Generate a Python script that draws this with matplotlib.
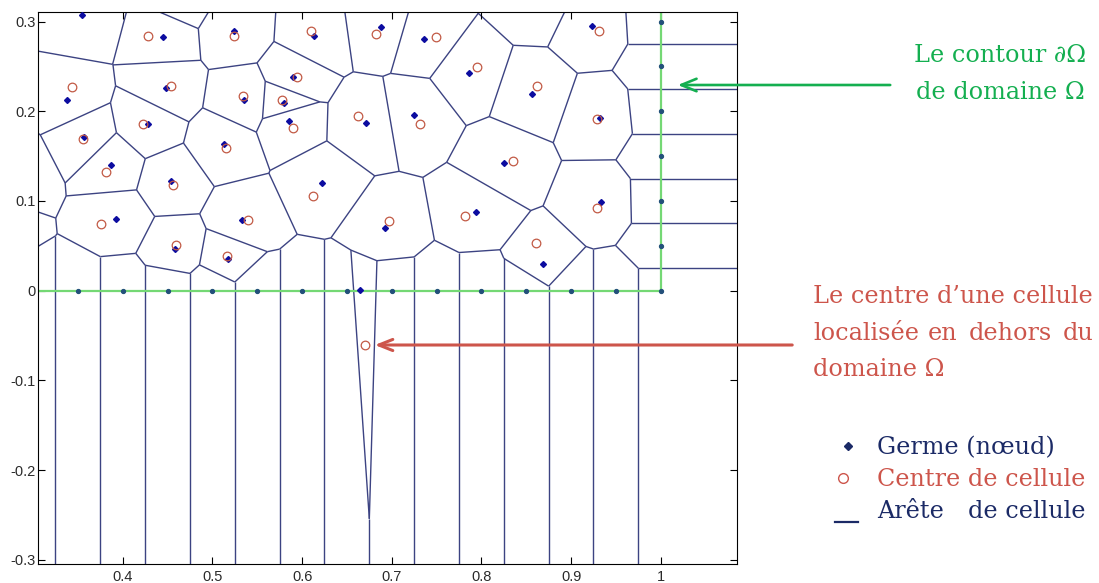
import numpy as np
import matplotlib
matplotlib.use('Agg')
import matplotlib.pyplot as plt
import matplotlib.tri as mtri
from matplotlib.collections import LineCollection
from matplotlib.lines import Line2D
from matplotlib.ticker import FuncFormatter

# germes (noeuds)
germe_x = [0.355, 0.445, 0.5245, 0.6138, 0.3383, 0.448, 0.535, 0.5903, 0.5796, 0.5855,
           0.4279, 0.3572, 0.5126, 0.3874, 0.4539, 0.6219, 0.3926, 0.5335, 0.4584, 0.5171,
           0.671, 0.6877, 0.736, 0.9238, 0.7859, 0.8565, 0.7253, 0.9323, 0.8253, 0.9335,
           0.6929, 0.794, 0.8684, 0.665]
germe_y = [0.307, 0.2832, 0.2895, 0.2839, 0.2126, 0.2263, 0.2129, 0.2378, 0.2096, 0.1895,
           0.1854, 0.1713, 0.1635, 0.1405, 0.1219, 0.1197, 0.0799, 0.0788, 0.0461, 0.0353,
           0.1869, 0.2943, 0.2802, 0.2954, 0.243, 0.2193, 0.1962, 0.1929, 0.1427, 0.0985,
           0.0695, 0.0881, 0.0297, 0.00103]

# germes places sur le contour (y=0 et x=1)
bord_x = [0.25, 0.30, 0.35, 0.40, 0.45, 0.50, 0.55, 0.60, 0.65, 0.70, 0.75, 0.80, 0.85,
          0.90, 0.95, 1.00, 1.00, 1.00, 1.00, 1.00, 1.00, 1.00, 1.00]
bord_y = [0.0, 0.0, 0.0, 0.0, 0.0, 0.0, 0.0, 0.0, 0.0, 0.0, 0.0, 0.0, 0.0,
          0.0, 0.0, 0.0, 0.05, 0.10, 0.15, 0.20, 0.25, 0.30, 0.35]

# germes hors de la fenetre (a gauche et en haut)
cache_x = [0.2816, 0.2593, 0.25, 0.25, 0.36, 0.4636, 0.54, 0.62, 0.69, 0.74, 0.8616, 0.93]
cache_y = [0.1322, 0.0675, 0.20, 0.34, 0.37, 0.3268, 0.36, 0.36, 0.37, 0.37, 0.3256, 0.37]

# centres des cellules
centre_x = [0.4279, 0.5245, 0.61, 0.3431, 0.4543, 0.5338, 0.5948, 0.5777, 0.5903, 0.423,
            0.3558, 0.5149, 0.3814, 0.4558, 0.6126, 0.3755, 0.5394, 0.4595, 0.5164, 0.6628,
            0.6822, 0.7499, 0.9314, 0.7948, 0.8617, 0.7313, 0.9286, 0.8348, 0.9286, 0.6967,
            0.7822, 0.8606, 0.6702]
centre_y = [0.2836, 0.2843, 0.2895, 0.2274, 0.2285, 0.2174, 0.2378, 0.2126, 0.181, 0.1858,
            0.1695, 0.159, 0.1323, 0.1182, 0.1052, 0.0743, 0.0788, 0.0509, 0.0383, 0.1944,
            0.2861, 0.2824, 0.2895, 0.2497, 0.2285, 0.1855, 0.1918, 0.1449, 0.0918, 0.0777,
            0.0836, 0.0535, -0.0605]

# contour du domaine
contour_x = [0.0, 1.0, 1.0]
contour_y = [0.0, 0.0, 0.4]

W, H = 1099, 583


def pix(px, py):
    return px / W, 1 - py / H


def aretes_voronoi(x, y, longueur=5.0):
    tri = mtri.Triangulation(x, y)
    pts = np.column_stack([x, y])
    T = tri.triangles
    a, b, c = pts[T[:, 0]], pts[T[:, 1]], pts[T[:, 2]]
    a2, b2, c2 = (a**2).sum(1), (b**2).sum(1), (c**2).sum(1)
    d = 2 * (a[:, 0]*(b[:, 1]-c[:, 1]) + b[:, 0]*(c[:, 1]-a[:, 1]) + c[:, 0]*(a[:, 1]-b[:, 1]))
    ux = (a2*(b[:, 1]-c[:, 1]) + b2*(c[:, 1]-a[:, 1]) + c2*(a[:, 1]-b[:, 1])) / d
    uy = (a2*(c[:, 0]-b[:, 0]) + b2*(a[:, 0]-c[:, 0]) + c2*(b[:, 0]-a[:, 0])) / d
    cc = np.column_stack([ux, uy])
    segs = []
    for t in range(len(T)):
        for k in range(3):
            n = tri.neighbors[t, k]
            if n > t:
                segs.append([cc[t], cc[n]])
            elif n == -1:
                p = pts[T[t, k]]
                q = pts[T[t, (k+1) % 3]]
                r = pts[T[t, (k+2) % 3]]
                e = q - p
                nrm = np.array([e[1], -e[0]])
                if np.dot(nrm, (p+q)/2 - r) < 0:
                    nrm = -nrm
                nrm = nrm / np.hypot(nrm[0], nrm[1])
                segs.append([cc[t], cc[t] + longueur*nrm])
    return segs


tous_x = np.array(germe_x + bord_x + cache_x)
tous_y = np.array(germe_y + bord_y + cache_y)
segs = aretes_voronoi(tous_x, tous_y)

plt.rcParams['axes.unicode_minus'] = False
fig = plt.figure(figsize=(W/100, H/100), dpi=100)
ax = fig.add_axes([38/W, 1-564/H, (736.7-38)/W, (564-12)/H])

ax.add_collection(LineCollection(segs, colors='#3c4382', linewidths=1.0, zorder=1))
ax.plot(contour_x, contour_y, color='#74d874', lw=1.6, zorder=2)
ax.plot(bord_x, bord_y, 'o', color='#23507a', ms=2.8, zorder=3)
ax.plot(germe_x + cache_x, germe_y + cache_y, 'D', color='#0c0ca0', ms=3.0, zorder=3)
ax.plot(centre_x, centre_y, 'o', mfc='none', mec='#c25a45', mew=0.9, ms=6.2, zorder=4)

ax.set_xlim(0.3055, 1.0847)
ax.set_ylim(-0.3047, 0.3107)
ax.set_xticks([0.4, 0.5, 0.6, 0.7, 0.8, 0.9, 1.0])
ax.set_yticks([-0.3, -0.2, -0.1, 0, 0.1, 0.2, 0.3])
fmt = FuncFormatter(lambda v, p: '%g' % round(v, 3))
ax.xaxis.set_major_formatter(fmt)
ax.yaxis.set_major_formatter(fmt)
ax.tick_params(direction='in', top=True, right=True, length=5, width=0.8,
               labelsize=10.5, labelcolor='#2a2a2a', labelfontfamily='Liberation Sans')
ax.tick_params(axis='y', pad=1.5)
ax.tick_params(axis='x', pad=4)
for s in ax.spines.values():
    s.set_linewidth(0.8)

serif = 'DejaVu Serif'
fs = 17.2
vert = '#14af50'
rouge = '#cd554b'
bleu = '#1b2a66'

# fleche et texte du contour
ax.annotate('', xy=pix(675, 85), xycoords='figure fraction', xytext=pix(893, 85),
            textcoords='figure fraction', annotation_clip=False,
            arrowprops=dict(arrowstyle='->,head_length=1.1,head_width=0.45', color=vert, lw=1.9))
fig.text(*pix(1000.5, 61.5), 'Le contour ∂Ω', color=vert, family=serif, size=fs,
         ha='center', va='baseline')
fig.text(*pix(1000.5, 99), 'de domaine Ω', color=vert, family=serif, size=fs,
         ha='center', va='baseline')

# fleche et texte du centre hors domaine
ax.annotate('', xy=pix(372, 345), xycoords='figure fraction', xytext=pix(795, 345),
            textcoords='figure fraction', annotation_clip=False,
            arrowprops=dict(arrowstyle='->,head_length=1.0,head_width=0.4', color=rouge, lw=2.2))
fig.text(*pix(813, 303), 'Le centre d’une cellule', color=rouge, family=serif, size=fs,
         va='baseline')
for mot, px in [('localisée', 813), ('en', 928), ('dehors', 969), ('du', 1063)]:
    fig.text(*pix(px, 340), mot, color=rouge, family=serif, size=fs, va='baseline')
fig.text(*pix(813, 376), 'domaine Ω', color=rouge, family=serif, size=fs, va='baseline')

# legende
fig.add_artist(Line2D([848/W], [1-446/H], marker='D', color=bleu, ms=4.5, ls='none',
                      transform=fig.transFigure))
fig.add_artist(Line2D([843/W], [1-478/H], marker='o', mfc='none', mec=rouge, mew=1.0, ms=7,
                      ls='none', transform=fig.transFigure))
fig.add_artist(Line2D([835/W, 858/W], [1-522/H, 1-522/H], color=bleu, lw=1.6,
                      transform=fig.transFigure))
fig.text(*pix(877, 454), 'Germe (nœud)', color=bleu, family=serif, size=fs, va='baseline')
fig.text(*pix(877, 486), 'Centre de cellule', color=rouge, family=serif, size=fs, va='baseline')
fig.text(*pix(877, 518), 'Arête', color=bleu, family=serif, size=fs, va='baseline')
fig.text(*pix(968, 518), 'de cellule', color=bleu, family=serif, size=fs, va='baseline')

fig.savefig('out.png', dpi=100)
